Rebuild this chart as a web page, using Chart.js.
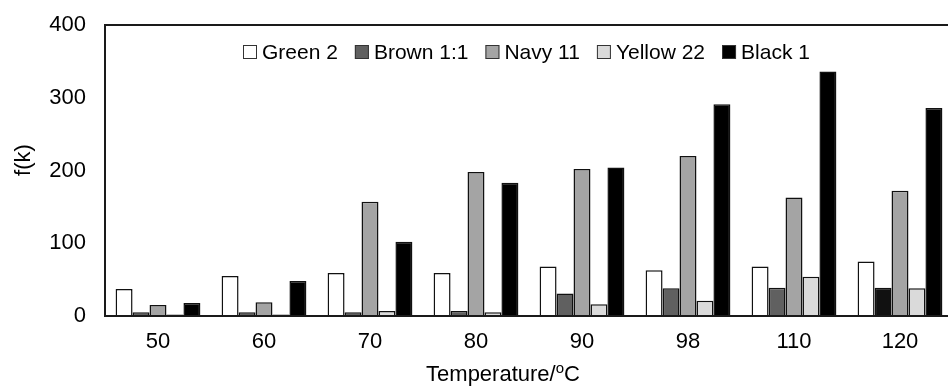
<!DOCTYPE html>
<html>
<head>
<meta charset="utf-8">
<script src="https://cdn.jsdelivr.net/npm/chart.js@4/dist/chart.umd.min.js"></script>
<style>
  html, body { margin: 0; padding: 0; background: #fff; overflow: hidden; }
  #wrap { width: 960px; height: 388px; }
</style>
</head>
<body>
<div id="wrap"><canvas id="grafico" width="960" height="388"></canvas></div>
<script>
// datos
const temperaturas = ['50', '60', '70', '80', '90', '98', '110', '120'];
const green2 = [37, 55, 59, 59, 68, 63, 68, 75];
const brown11 = [5, 5, 5, 7, 31, 38, 39, 39];
const navy11 = [15, 19, 157, 198, 202, 220, 163, 172];
const yellow22 = [2, 2, 7, 5, 16, 21, 54, 38];
const black1 = [18, 48, 102, 183, 204, 291, 336, 286];
const ticksY = [0, 100, 200, 300, 400];

const fuente = '"Liberation Sans", Arial, sans-serif';

// marco, leyenda y titulos dibujados a mano
const extras = {
    id: 'extras',
    afterDraw(chart) {
        const ctx = chart.ctx;
        const area = chart.chartArea;
        ctx.save();
        // marco
        ctx.strokeStyle = '#1a1a1a';
        ctx.lineWidth = 2;
        ctx.strokeRect(area.left, area.top, area.right - area.left, area.bottom - area.top);

        // leyenda
        ctx.font = '21px ' + fuente;
        ctx.textBaseline = 'middle';
        ctx.textAlign = 'left';
        let x = 243;
        const y = 52;
        chart.data.datasets.forEach(ds => {
            const fill = Array.isArray(ds.backgroundColor) ? ds.backgroundColor[0] : ds.backgroundColor;
            ctx.fillStyle = fill;
            ctx.fillRect(x, y - 7, 14, 14);
            ctx.lineWidth = 1;
            ctx.strokeStyle = '#333';
            ctx.strokeRect(x + 0.5, y - 6.5, 13, 13);
            ctx.fillStyle = '#000';
            ctx.fillText(ds.label, x + 19, y + 1);
            x += 19 + ctx.measureText(ds.label).width + 17;
        });

        // titulo eje x: "Temperature/" + o volada + "C"
        ctx.font = '22px ' + fuente;
        ctx.fillStyle = '#000';
        const t1 = 'Temperature/';
        const w1 = ctx.measureText(t1).width;
        ctx.font = '15px ' + fuente;
        const wo = ctx.measureText('o').width;
        ctx.font = '22px ' + fuente;
        const wc = ctx.measureText('C').width;
        let tx = 503 - (w1 + wo + wc) / 2;
        ctx.fillText(t1, tx, 375);
        ctx.font = '15px ' + fuente;
        ctx.fillText('o', tx + w1, 369);
        ctx.font = '22px ' + fuente;
        ctx.fillText('C', tx + w1 + wo, 375);

        // titulo eje y
        ctx.textAlign = 'center';
        ctx.translate(24, 160);
        ctx.rotate(-Math.PI / 2);
        ctx.fillText('f(k)', 0, 0);
        ctx.restore();
    }
};

const ctx = document.getElementById('grafico').getContext('2d');
const grafico = new Chart(ctx, {
    type: 'bar',
    data: {
        labels: temperaturas,
        datasets: [
            { label: 'Green 2', data: green2, backgroundColor: '#ffffff' },
            { label: 'Brown 1:1', data: brown11, backgroundColor: ['#606060', '#606060', '#606060', '#606060', '#606060', '#606060', '#606060', '#111111'] },
            { label: 'Navy 11', data: navy11, backgroundColor: '#a4a4a4' },
            { label: 'Yellow 22', data: yellow22, backgroundColor: '#dadada' },
            { label: 'Black 1', data: black1, backgroundColor: '#000000' }
        ]
    },
    options: {
        responsive: false,
        animation: false,
        layout: { padding: { top: 25, right: 7, left: 0, bottom: 0 } },
        datasets: {
            bar: {
                borderColor: '#111',
                borderWidth: 1.5,
                categoryPercentage: 0.8,
                barPercentage: 1.0
            }
        },
        scales: {
            x: {
                // marcas invisibles: solo sirven de separacion para las etiquetas
                grid: { display: false, drawTicks: true, tickLength: 13 },
                border: { display: true, color: '#1a1a1a', width: 2 },
                ticks: { color: '#000', font: { family: fuente, size: 22 }, padding: 0 },
                afterFit: s => { s.height = 72; }
            },
            y: {
                min: 0,
                max: 400,
                afterBuildTicks: s => { s.ticks = ticksY.map(v => ({ value: v })); },
                grid: { display: false, drawTicks: true, tickLength: 19 },
                border: { display: true, color: '#1a1a1a', width: 2 },
                ticks: { color: '#000', font: { family: fuente, size: 22 }, padding: 0 },
                afterFit: s => { s.width = 105; }
            }
        },
        plugins: {
            legend: { display: false },
            tooltip: { enabled: false }
        }
    },
    plugins: [extras]
});
</script>
</body>
</html>
